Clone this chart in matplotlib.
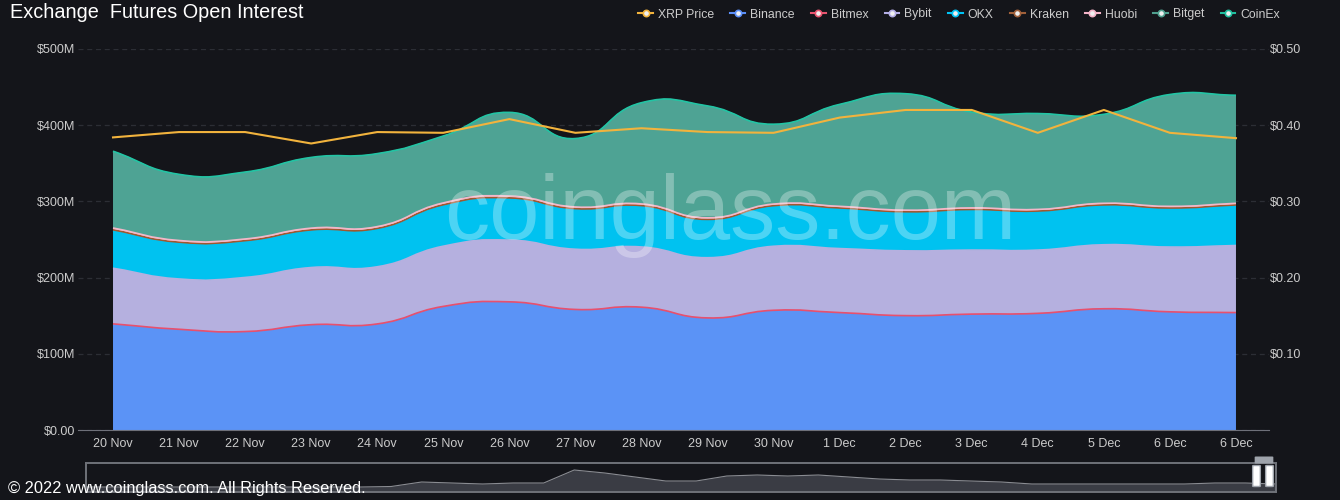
import numpy as np
import matplotlib.pyplot as plt
from matplotlib.path import Path
from matplotlib.patches import PathPatch, FancyBboxPatch
from matplotlib.lines import Line2D
from matplotlib.ticker import FuncFormatter

plt.rcParams['font.family'] = ['Liberation Sans', 'DejaVu Sans']

# ---- data (values in $M, price in $) ----
dates = ['20 Nov', '21 Nov', '22 Nov', '23 Nov', '24 Nov', '25 Nov', '26 Nov', '27 Nov', '28 Nov',
         '29 Nov', '30 Nov', '1 Dec', '2 Dec', '3 Dec', '4 Dec', '5 Dec', '6 Dec', '6 Dec']
binance = [138, 131, 128, 137, 138, 161, 167, 157, 160, 146, 156, 153, 149, 151, 152, 158, 154, 153]
bitmex = [1.3, 1.2, 1.2, 1.2, 1.2, 1.2, 1.2, 1.2, 1.2, 1.1, 1.1, 1.1, 1.1, 1.1, 1.1, 1.1, 1.1, 1.1]
bybit = [73, 66, 71, 75, 75, 79, 81, 79, 79, 79, 84, 84, 85, 84, 83, 84, 85, 88]
okx = [49, 47, 47, 48, 49, 53, 54, 52, 53, 49, 52, 52, 50, 52, 50, 51, 50, 52]
kraken = [1.4, 1.3, 1.3, 1.4, 1.4, 1.4, 1.4, 1.3, 1.3, 1.3, 1.3, 1.3, 1.3, 1.3, 1.3, 1.3, 1.3, 1.3]
huobi = [2.4, 2.2, 2.2, 2.3, 2.3, 2.4, 2.4, 2.2, 2.2, 2.1, 2.1, 2.1, 2.1, 2.1, 2.1, 2.1, 2.1, 2.1]
bitget = [100, 86, 87, 92, 95, 87, 109, 89, 132, 146, 104, 133, 152, 125, 125, 116, 146, 141]
coinex = [0.8, 0.8, 0.8, 0.8, 0.8, 0.8, 0.8, 0.8, 0.8, 0.8, 0.8, 0.8, 0.8, 0.8, 0.8, 0.8, 0.8, 0.8]
xrp_price = [0.384, 0.391, 0.391, 0.376, 0.391, 0.390, 0.408, 0.390, 0.396, 0.391, 0.390, 0.410,
             0.420, 0.420, 0.390, 0.420, 0.390, 0.383]

# navigator sparkline (full history, arbitrary units)
spark = [5, 5, 5, 5, 5, 5, 5, 5, 5, 5, 5.5, 10, 9, 8, 9, 9, 22, 19, 15, 11, 11, 16, 17, 16, 17,
         15, 13, 12, 12, 11, 10, 8, 8, 8, 8, 8, 8, 9, 9, 8]

names = ['Binance', 'Bitmex', 'Bybit', 'OKX', 'Kraken', 'Huobi', 'Bitget', 'CoinEx']
series = [binance, bitmex, bybit, okx, kraken, huobi, bitget, coinex]
fills = ['#5b93f6', '#e8506d', '#b5b0df', '#00c2f0', '#a0582f', '#f2b8c9', '#4ea394', '#22c4a4']
lines = ['#5b93f6', '#e8506d', '#b5b0df', '#00c2f0', '#a0582f', '#f2b8c9', '#4ea394', '#22c4a4']
legend_cols = ['#f2b33d', '#5b8ff9', '#e8546f', '#b4aee6', '#00c3f5', '#a0603a', '#f4b4c8', '#4f9f8e', '#1fbf9f']

BG = '#14151a'
TXT = '#cccccc'
SMOOTH = 0.5


def smooth_verts(ys):
    # echarts-like bezier smoothing
    n = len(ys)
    pts = np.column_stack([np.arange(n, dtype=float), np.asarray(ys, dtype=float)])
    sc = np.array([66.0, 0.76])
    cin, cout = [], []
    for i in range(n):
        prev, cur, nxt = pts[max(i - 1, 0)], pts[i], pts[min(i + 1, n - 1)]
        v = nxt - prev
        d0 = np.hypot(*((cur - prev) * sc))
        d1 = np.hypot(*((nxt - cur) * sc))
        r = d0 / (d0 + d1) if d0 + d1 > 0 else 0.5
        cin.append(cur - v * SMOOTH * r)
        cout.append(cur + v * SMOOTH * (1 - r))
    verts = [pts[0]]
    for i in range(n - 1):
        verts += [cout[i], cin[i + 1], pts[i + 1]]
    return np.array(verts)


fig = plt.figure(figsize=(13.4, 5), dpi=100, facecolor=BG)
ax = fig.add_axes([78 / 1340, 70 / 500, 1191 / 1340, 381 / 500])
ax.set_facecolor(BG)

n = len(dates)
bottom = np.zeros(n)
for name, vals, fc, lc in zip(names, series, fills, lines):
    top = bottom + np.array(vals)
    tv = smooth_verts(top)
    bv = smooth_verts(bottom)[::-1]
    verts = np.vstack([tv, bv, tv[:1]])
    m = len(tv)
    codes = [Path.MOVETO] + [Path.CURVE4] * (m - 1) + [Path.LINETO] + [Path.CURVE4] * (m - 1) + [Path.CLOSEPOLY]
    ax.add_patch(PathPatch(Path(verts, codes), facecolor=fc, edgecolor='none', zorder=2))
    ax.add_patch(PathPatch(Path(tv, [Path.MOVETO] + [Path.CURVE4] * (m - 1)), facecolor='none',
                           edgecolor=lc, lw=1.2, zorder=3))
    bottom = top

ax.set_xlim(-0.53, n - 1 + 0.5)
ax.set_ylim(0, 500)
ax.set_yticks([0, 100, 200, 300, 400, 500])
ax.yaxis.set_major_formatter(FuncFormatter(lambda v, p: '$0.00' if v == 0 else '${:.0f}M'.format(v)))
ax.set_xticks(range(n))
ax.set_xticklabels(dates)
ax.grid(axis='y', color='#2c2e35', linestyle=(0, (4, 3)), lw=0.9, zorder=1)
ax.set_axisbelow(True)
for s in ['top', 'right', 'left']:
    ax.spines[s].set_visible(False)
ax.spines['bottom'].set_color('#6e7079')
ax.tick_params(axis='x', length=0, colors=TXT, labelsize=9, pad=6)
ax.tick_params(axis='y', length=0, colors=TXT, labelsize=9, pad=2)

ax2 = ax.twinx()
ax2.plot(range(n), xrp_price, color='#f2b33d', lw=1.5, zorder=5)
ax2.set_ylim(0, 0.5)
ax2.set_yticks([0.1, 0.2, 0.3, 0.4, 0.5])
ax2.yaxis.set_major_formatter(FuncFormatter(lambda v, p: '${:.2f}'.format(v)))
ax2.tick_params(axis='y', length=0, colors=TXT, labelsize=9, pad=1)
for s in ax2.spines.values():
    s.set_visible(False)

# watermark
ax.text(0.548, 0.5, 'coinglass.com', transform=ax.transAxes, fontsize=65, color='white', alpha=0.3,
        ha='center', va='baseline', zorder=6)

# title, legend, footer
fig.text(10 / 1340, 1 - 12 / 500, 'Exchange  Futures Open Interest', color='white', fontsize=14.3,
         va='center', ha='left')
handles = [Line2D([], [], color=c, lw=1.5, marker='o', markersize=4.5, markerfacecolor='#f0f0f0',
                  markeredgecolor=c, markeredgewidth=1.2) for c in legend_cols]
fig.legend(handles, ['XRP Price'] + names, loc='upper right', bbox_to_anchor=(1291 / 1340, 1.005),
           ncol=9, frameon=False, fontsize=8.8, labelcolor=TXT, handlelength=1.2, handletextpad=0.4,
           columnspacing=1.35)
fig.text(8 / 1340, 1 - 488 / 500, '\u00a9 2022 www.coinglass.com. All Rights Reserved.', color='white',
         fontsize=11.8, va='center', ha='left', zorder=10)

# data zoom navigator
nav = fig.add_axes([86 / 1340, 8 / 500, 1190 / 1340, 29 / 500])
nav.set_facecolor(BG)
sx = np.linspace(0, 1, len(spark))
nav.fill_between(sx, 0, spark, color='#3a3c44', lw=0)
nav.plot(sx, spark, color='#8a8c92', lw=0.8)
nav.set_xlim(0, 1)
nav.set_ylim(0, 29)
nav.set_xticks([])
nav.set_yticks([])
for s in nav.spines.values():
    s.set_color('#6f7279')
    s.set_linewidth(1.4)
fig.add_artist(FancyBboxPatch((1254 / 1340, 14 / 500), 5 / 1340, 20 / 500, boxstyle='round,pad=0.001',
                              facecolor='white', edgecolor='#9ea3ab', transform=fig.transFigure))
fig.add_artist(FancyBboxPatch((1267 / 1340, 14 / 500), 5 / 1340, 20 / 500, boxstyle='round,pad=0.001',
                              facecolor='white', edgecolor='#9ea3ab', transform=fig.transFigure))
fig.add_artist(FancyBboxPatch((1256 / 1340, 37 / 500), 16 / 1340, 6 / 500, boxstyle='round,pad=0.001',
                              facecolor='#9ea3ab', edgecolor='none', transform=fig.transFigure))

fig.savefig('out.png', dpi=100, facecolor=BG)
